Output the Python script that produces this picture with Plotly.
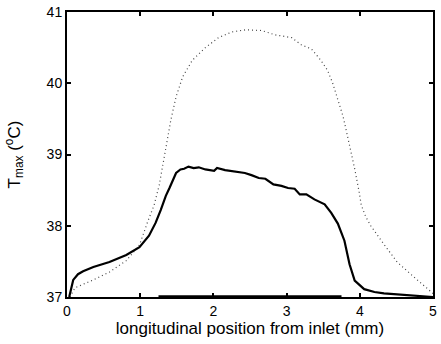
import plotly.graph_objects as go

# Solid curve
solid_x = [0.03, 0.085, 0.15, 0.22, 0.36, 0.58, 0.81, 0.99, 1.12, 1.21, 1.28, 1.35, 1.40, 1.49, 1.55,
           1.60, 1.66, 1.73, 1.80, 1.89, 2.01, 2.05, 2.16, 2.30, 2.43, 2.52, 2.62, 2.71, 2.82, 2.93,
           3.02, 3.11, 3.18, 3.27, 3.38, 3.52, 3.61, 3.70, 3.79, 3.86, 3.93, 4.06, 4.20, 4.33, 4.69, 5.0]
solid_y = [37.0, 37.24, 37.32, 37.36, 37.42, 37.49, 37.59, 37.70, 37.86, 38.04, 38.22, 38.42, 38.53, 38.74, 38.79,
           38.80, 38.83, 38.81, 38.82, 38.79, 38.77, 38.81, 38.78, 38.76, 38.74, 38.71, 38.67, 38.66, 38.58, 38.56,
           38.53, 38.52, 38.44, 38.44, 38.37, 38.30, 38.18, 38.03, 37.79, 37.46, 37.23, 37.11, 37.07, 37.05, 37.02, 37.0]

# Dotted curve
dotted_x = [0.04, 0.11, 0.36, 0.58, 0.81, 0.99, 1.10, 1.19, 1.26, 1.31, 1.37, 1.42, 1.49, 1.58, 1.71, 1.89,
            2.07, 2.25, 2.44, 2.66, 2.84, 2.98, 3.07, 3.20, 3.34, 3.47, 3.56, 3.63, 3.70, 3.77, 3.81, 3.86,
            3.93, 3.99, 4.02, 4.08, 4.15, 4.33, 4.51, 4.74, 4.94, 5.0]
dotted_y = [37.0, 37.13, 37.24, 37.35, 37.51, 37.73, 38.05, 38.29, 38.57, 38.84, 39.17, 39.49, 39.81, 40.09, 40.32, 40.50,
            40.64, 40.72, 40.75, 40.74, 40.68, 40.66, 40.64, 40.54, 40.48, 40.32, 40.18, 40.00, 39.77, 39.54, 39.36, 39.14,
            38.80, 38.48, 38.29, 38.13, 38.00, 37.74, 37.49, 37.28, 37.10, 37.05]

# Thick segment along the bottom axis
segment_x = [1.25, 3.75]
segment_y = [37.0, 37.0]

x_ticks = [0, 1, 2, 3, 4, 5]
y_ticks = [37, 38, 39, 40, 41]

fig = go.Figure()
fig.add_trace(go.Scatter(x=dotted_x, y=dotted_y, mode="lines",
                         line=dict(color="#444444", width=1.2, dash="1px,3px"), showlegend=False))
fig.add_trace(go.Scatter(x=solid_x, y=solid_y, mode="lines",
                         line=dict(color="black", width=2.2), showlegend=False))
fig.add_trace(go.Scatter(x=segment_x, y=segment_y, mode="lines",
                         line=dict(color="black", width=3.5), showlegend=False, cliponaxis=False))

font = dict(family="Liberation Sans, Arial, sans-serif", size=14, color="black")
fig.update_layout(
    width=441, height=344,
    margin=dict(l=67, r=4, t=7, b=47),
    paper_bgcolor="white", plot_bgcolor="white",
    font=font,
    xaxis=dict(range=[0, 5], tickvals=x_ticks, ticks="inside", ticklen=4, tickwidth=2,
               tickcolor="black", showline=True, linecolor="black", linewidth=2,
               mirror="ticks", showgrid=False, zeroline=False, ticklabeloverflow="allow",
               title=dict(text="longitudinal position from inlet (mm)", standoff=2),
               tickfont=font),
    yaxis=dict(range=[37, 41], tickvals=y_ticks, ticks="inside", ticklen=4, tickwidth=2,
               tickcolor="black", showline=True, linecolor="black", linewidth=2,
               mirror="ticks", showgrid=False, zeroline=False, ticklabeloverflow="allow",
               title=dict(text="T<sub>max</sub> (<sup>o</sup>C)", standoff=22),
               tickfont=font),
)
fig.write_html("out.html")
